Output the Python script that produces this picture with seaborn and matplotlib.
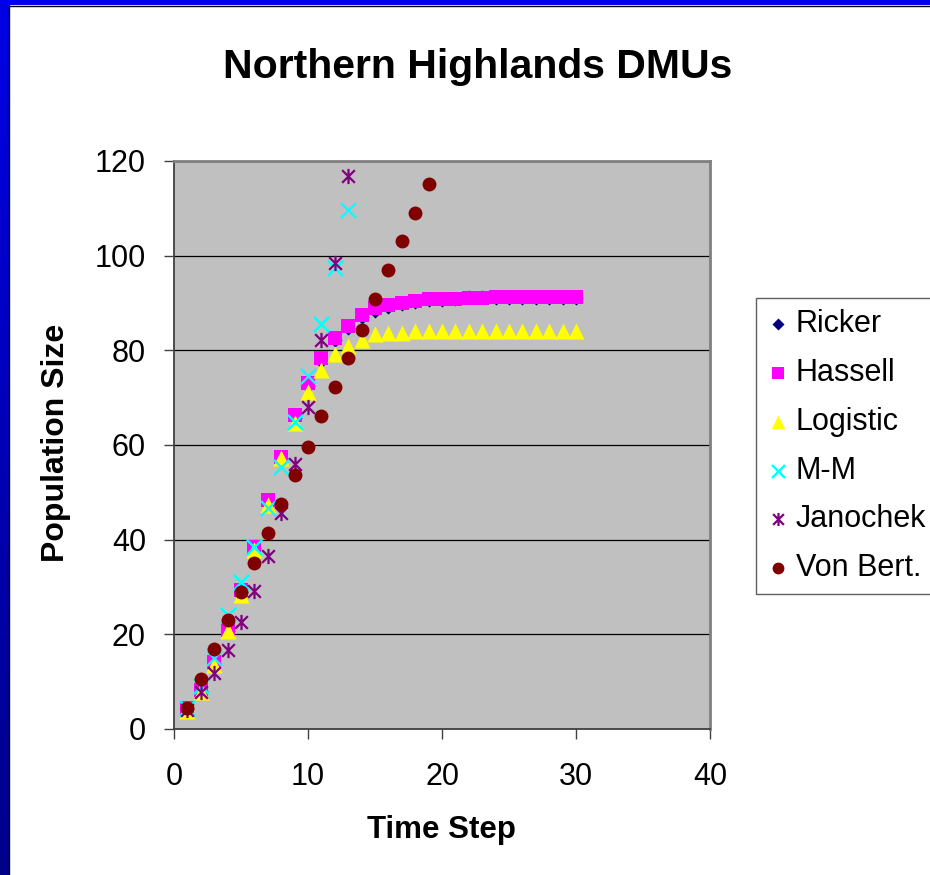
import numpy as np
import pandas as pd
import matplotlib
matplotlib.use("Agg")
import matplotlib.pyplot as plt
from matplotlib.path import Path
from matplotlib.patches import Rectangle
from matplotlib.lines import Line2D
from matplotlib.colors import LinearSegmentedColormap
import seaborn as sns

# ---- data ----
time_steps = list(range(1, 31))
ricker = [4.3, 8.0, 13.9, 20.7, 29.0, 38.2, 48.0, 57.2, 65.8, 72.5, 77.8, 82.2, 84.8, 87.0, 88.4,
          89.2, 89.8, 90.2, 90.6, 90.7, 90.9, 91.3, 91.3, 91.1, 91.1, 91.1, 91.1, 91.1, 91.1, 91.1]
hassell = [4.4, 8.2, 14.2, 20.9, 29.4, 38.5, 48.4, 57.5, 66.3, 73.0, 78.3, 82.7, 85.2, 87.5, 88.9,
           89.6, 90.1, 90.5, 90.9, 90.9, 90.9, 91.0, 91.1, 91.2, 91.2, 91.2, 91.2, 91.2, 91.2, 91.2]
logistic = [3.7, 7.9, 13.5, 20.6, 28.3, 37.8, 47.3, 57.2, 64.7, 71.3, 75.8, 79.2, 80.9, 82.2, 83.5,
            83.7, 83.7, 84.1, 84.1, 84.1, 84.1, 84.1, 84.1, 84.1, 84.1, 84.1, 84.1, 84.1, 84.1, 84.1]
mm = [4.5, 9.0, 15.0, 24.0, 31.0, 38.5, 46.7, 55.3, 64.9, 74.5, 85.5, 97.3, 109.7]
janochek = [4.0, 7.9, 11.8, 16.7, 22.7, 29.2, 36.6, 45.6, 56.0, 68.1, 82.2, 98.4, 116.8]
von_bert = [4.4, 10.5, 17.0, 23.0, 29.0, 35.1, 41.5, 47.5, 53.7, 59.6, 66.2, 72.3, 78.3, 84.4,
            90.9, 97.0, 103.0, 109.1, 115.1]
series_names = ["Ricker", "Hassell", "Logistic", "M-M", "Janochek", "Von Bert."]
y_ticks = [0, 20, 40, 60, 80, 100, 120]
x_ticks = [0, 10, 20, 30, 40]

sns.set_theme(style="white")
plt.rcParams["font.family"] = ["Liberation Sans", "DejaVu Sans"]
plt.rcParams["text.color"] = "black"
plt.rcParams["xtick.color"] = "#404040"
plt.rcParams["ytick.color"] = "#404040"
plt.rcParams["xtick.labelcolor"] = "black"
plt.rcParams["ytick.labelcolor"] = "black"

fig = plt.figure(figsize=(9.3, 8.75), dpi=100)
fig.patch.set_facecolor("white")

# decorative slide border (blue gradient left, blue top)
bar_ax = fig.add_axes([0, 0, 9 / 930, 1])
grad = np.linspace(0, 1, 256).reshape(-1, 1)
cmap = LinearSegmentedColormap.from_list("b", ["#0000E6", "#00008A"])
bar_ax.imshow(grad, aspect="auto", cmap=cmap, extent=[0, 1, 0, 1], origin="upper")
bar_ax.set_axis_off()
fig.patches.append(Rectangle((0, 1 - 5 / 875), 1, 5 / 875, transform=fig.transFigure,
                             facecolor="#0000E6", edgecolor="none", zorder=0))
fig.lines.append(Line2D([9 / 930, 9 / 930], [0, 1 - 5 / 875], transform=fig.transFigure,
                        color="black", lw=1))
fig.lines.append(Line2D([9 / 930, 1], [1 - 5.5 / 875, 1 - 5.5 / 875], transform=fig.transFigure,
                        color="black", lw=1))

ax = fig.add_axes([174 / 930, 1 - 729 / 875, 536 / 930, 568 / 875])
ax.set_facecolor("#C0C0C0")

star = Path([(-0.5, -0.5), (0.5, 0.5), (-0.5, 0.5), (0.5, -0.5), (0, -0.6), (0, 0.6)],
            [Path.MOVETO, Path.LINETO, Path.MOVETO, Path.LINETO, Path.MOVETO, Path.LINETO])

df_main = pd.DataFrame({"t": time_steps, "Ricker": ricker, "Hassell": hassell, "Logistic": logistic})
sns.scatterplot(data=df_main, x="t", y="Ricker", marker="D", s=52, color="#000080",
                edgecolor="#000080", linewidth=0, label="Ricker", ax=ax, zorder=3)
sns.scatterplot(data=df_main, x="t", y="Hassell", marker="s", s=112, color="#FF00FF",
                edgecolor="#FF00FF", linewidth=0, label="Hassell", ax=ax, zorder=3)
sns.scatterplot(data=df_main, x="t", y="Logistic", marker="^", s=135, color="#FFFF00",
                edgecolor="#FFFF00", linewidth=0, label="Logistic", ax=ax, zorder=3)
sns.scatterplot(x=time_steps[:len(mm)], y=mm, marker="x", s=120, color="#00FFFF",
                linewidth=1.7, label="M-M", ax=ax, zorder=3)
sns.scatterplot(x=time_steps[:len(janochek)], y=janochek, marker=star, s=120, color="#800080",
                edgecolor="#800080", linewidth=1.6, label="Janochek", ax=ax, zorder=3)
sns.scatterplot(x=time_steps[:len(von_bert)], y=von_bert, marker="o", s=100, color="#800000",
                edgecolor="#800000", linewidth=0, label="Von Bert.", ax=ax, zorder=3)

ax.set_xlim(0, 40)
ax.set_ylim(0, 120)
ax.set_xticks(x_ticks)
ax.set_yticks(y_ticks)
ax.set_xticklabels([str(v) for v in x_ticks])
ax.set_yticklabels([str(v) for v in y_ticks])
ax.tick_params(axis="both", which="major", labelsize=22, length=7.2, width=1,
               color="#404040", labelcolor="black", direction="out", bottom=True, left=True)
ax.tick_params(axis="y", pad=13)
ax.tick_params(axis="x", pad=16.5)
ax.yaxis.grid(True, color="black", lw=0.9)
ax.xaxis.grid(False)
ax.set_axisbelow(True)
for side in ["top", "right"]:
    ax.spines[side].set_color("#808080")
    ax.spines[side].set_linewidth(2)
for side in ["left", "bottom"]:
    ax.spines[side].set_color("#404040")
    ax.spines[side].set_linewidth(1.3)
ax.set_xlabel("")
ax.set_ylabel("")

fig.text(478 / 930, 1 - 78 / 875, "Northern Highlands DMUs", ha="center", va="baseline",
         fontsize=29.5, fontweight="bold", color="black")
fig.text(441 / 930, 1 - 830 / 875, "Time Step", ha="center", va="center",
         fontsize=22.5, fontweight="bold", color="black")
fig.text(56 / 930, 1 - 443 / 875, "Population Size", ha="center", va="center",
         rotation=90, fontsize=23, fontweight="bold", color="black")

leg = ax.legend(loc="upper left", bbox_to_anchor=(756 / 930, 1 - 298 / 875),
                bbox_transform=fig.transFigure, fontsize=22, frameon=True, fancybox=False,
                framealpha=1, edgecolor="#606060", facecolor="white", markerscale=0.85,
                handlelength=0.75, handletextpad=0.2, labelspacing=0.62, borderpad=0.35,
                borderaxespad=0)
leg.get_frame().set_linewidth(1)
for t in leg.get_texts():
    t.set_color("black")

fig.savefig("out.png", dpi=100)
